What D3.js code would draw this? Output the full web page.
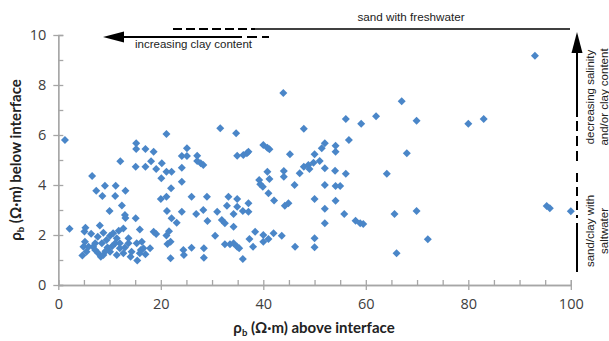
<!DOCTYPE html>
<html><head><meta charset="utf-8">
<script src="https://cdn.jsdelivr.net/npm/d3@7"></script>
<style>body{margin:0;background:#fff}svg{display:block}</style>
</head><body><svg id="c" width="609" height="341"></svg>
<script>
// resistivity above interface (x) and below interface (y), Ω·m
const xAbove = [
 1.3,12.1,15.2,15.2,15.1,17.0,17.0,18.1,18.6,20.2,19.1,21.1,20.1,21.1,22.1,24.1,25.1,25.1,24.1,27.1,
 27.1,27.8,28.3,24.1,31.6,34.7,34.9,36.1,36.8,37.1,40.0,40.8,41.2,43.9,45.2,47.9,40.8,44.0,44.0,47.9,
 48.8,47.1,49.8,49.0,39.2,39.4,39.9,41.2,46.1,41.0,42.1,44.2,44.9,56.1,59.1,62.0,67.0,69.9,80.0,83.0,
 93.0,56.7,68.0,52.0,51.4,54.1,54.1,50.0,51.0,52.0,54.0,56.1,64.1,52.0,54.1,55.0,50.0,54.1,52.0,55.8,
 58.0,58.9,59.5,65.6,69.9,52.0,50.0,50.0,66.0,72.1,95.3,95.9,100.0,26.0,29.0,33.2,34.9,37.1,32.9,34.9,
 28.3,24.1,26.9,31.0,36.0,37.1,34.2,29.1,31.9,32.5,34.2,30.6,38.4,40.0,42.0,41.0,40.0,43.6,37.3,32.5,
 33.5,34.2,34.9,35.3,38.0,46.2,26.0,28.4,24.4,24.5,28.4,36.0,22.0,20.0,21.1,21.2,22.1,23.1,18.6,19.1,
 15.9,21.1,21.6,21.3,21.9,21.9,2.2,6.6,7.4,9.1,11.2,8.6,11.1,13.1,10.0,12.4,13.0,13.1,15.1,
 4.7,4.9,5.2,5.1,5.3,5.5,5.9,6.4,6.8,7.2,7.2,7.7,7.8,8.1,8.3,8.5,8.8,8.8,9.4,10.1,10.1,10.7,11.1,11.4,
 11.4,11.8,12.0,12.0,12.7,12.7,13.7,13.7,14.1,14.3,15.4,15.3,15.9,16.1,16.3,16.6,17.0,17.9,9.6,10.5,13.0,9.2
];
const yBelow = [
 5.8,4.95,5.67,5.44,4.73,5.44,4.73,4.95,5.33,4.87,4.64,6.04,4.27,4.53,4.53,5.16,5.47,5.16,4.69,5.17,
 4.96,4.87,4.8,4.13,6.27,6.07,5.17,5.2,5.27,5.33,5.6,5.49,5.43,7.68,5.23,6.25,4.53,4.56,4.33,4.73,
 4.8,4.47,4.89,4.64,4.2,4.03,3.93,4.24,4.0,3.67,3.38,3.17,3.27,6.64,6.45,6.75,7.35,6.57,6.45,6.64,
 9.17,5.8,5.27,5.67,5.47,5.57,5.33,5.23,4.96,4.67,4.57,4.45,4.45,4.0,3.96,3.96,3.44,3.37,3.05,2.84,
 2.57,2.47,2.44,2.84,2.96,2.47,1.87,1.51,1.27,1.83,3.16,3.07,2.95,3.53,3.53,3.53,3.44,3.27,3.17,3.13,
 3.0,2.93,2.84,2.93,2.96,2.93,2.84,2.56,2.6,2.47,2.33,1.97,2.13,2.0,2.07,1.84,1.73,1.97,1.84,1.63,
 1.63,1.67,1.53,1.47,1.53,1.53,1.49,1.47,1.4,1.2,1.09,1.04,3.87,3.44,3.53,2.96,2.67,2.49,2.13,2.04,
 2.22,1.98,2.15,1.64,1.73,1.07,2.25,4.36,3.77,3.97,3.97,3.56,3.56,3.77,2.96,3.18,2.8,2.68,2.67,
 1.18,1.53,1.73,2.14,2.29,1.33,1.53,2.05,1.53,1.4,1.67,1.93,1.27,2.38,1.13,1.67,1.2,2.09,1.8,1.97,1.33,2.07,1.67,1.87,
 1.2,2.17,1.47,1.67,2.26,1.27,1.67,1.87,1.13,1.33,0.98,1.67,1.27,1.4,1.73,1.47,1.23,1.47,1.5,1.55,1.5,1.35
];
const xTickLabels = [0, 20, 40, 60, 80, 100];
const yTickLabels = [0, 2, 4, 6, 8, 10];
const xMinorTicks = d3.range(0, 101, 5);
const yMinorTicks = d3.range(0, 11, 1);
const topLabel = "sand with freshwater";
const leftArrowLabel = "increasing clay content";
const rightUpperLabel = ["decreasing salinity", "and/or clay content"];
const rightLowerLabel = ["sand/clay with", "saltwater"];

const svg = d3.select('#c');
const x = d3.scaleLinear().domain([0, 100]).range([58.3, 570.8]);
const y = d3.scaleLinear().domain([0, 10]).range([285, 35]);
const axisColor = '#a6a6a6';
const tickFont = '"Open Sans", sans-serif';

// minor (inside) ticks
const gxm = svg.append('g').attr('transform', `translate(0,${y(0)})`)
  .call(d3.axisBottom(x).tickValues(xMinorTicks).tickSize(-5).tickFormat(''));
const gym = svg.append('g').attr('transform', `translate(${x(0)},0)`)
  .call(d3.axisLeft(y).tickValues(yMinorTicks).tickSize(-5).tickFormat(''));
// major (outside) ticks + labels
const gx = svg.append('g').attr('transform', `translate(0,${y(0)})`)
  .call(d3.axisBottom(x).tickValues(xTickLabels).tickSizeInner(5).tickSizeOuter(0).tickPadding(9));
const gy = svg.append('g').attr('transform', `translate(${x(0)},0)`)
  .call(d3.axisLeft(y).tickValues(yTickLabels).tickSizeInner(5).tickSizeOuter(0).tickPadding(7));
[gxm, gym, gx, gy].forEach(g => {
  g.selectAll('path.domain').attr('stroke', axisColor).attr('stroke-width', 1.3);
  g.selectAll('line').attr('stroke', axisColor).attr('stroke-width', 1.3);
  g.selectAll('text').attr('fill', '#404040').attr('font-family', tickFont).attr('font-size', 14.5);
});

// points
const sym = d3.symbol().type(d3.symbolSquare).size(32);
svg.append('g').selectAll('path').data(xAbove.map((v, i) => [v, yBelow[i]])).join('path')
  .attr('d', sym)
  .attr('transform', d => `translate(${x(d[0])},${y(d[1])}) rotate(45)`)
  .attr('fill', '#4a86c8');

// axis titles
function title(g, tx, ty, rot, word) {
  const t = g.append('text').attr('transform', `translate(${tx},${ty}) rotate(${rot})`)
    .attr('text-anchor', 'middle').attr('font-family', 'Lato, sans-serif')
    .attr('font-weight', 'bold').attr('font-size', 15).attr('fill', '#222');
  t.append('tspan').text('ρ');
  t.append('tspan').attr('font-size', 9.5).attr('dy', 3).text('b');
  t.append('tspan').attr('dy', -3).text(' (Ω·m) ' + word);
}
title(svg, 314, 333, 0, 'above interface');
title(svg, 21, 160, -90, 'below interface');

// annotations
const ann = svg.append('g').attr('stroke', '#000').attr('fill', 'none');
const annFont = '"Liberation Sans", Arial, sans-serif';
// top freshwater line
ann.append('line').attr('x1', 173).attr('x2', 255).attr('y1', 29).attr('y2', 29)
  .attr('stroke-width', 2).attr('stroke-dasharray', '9,4');
ann.append('line').attr('x1', 255).attr('x2', 570).attr('y1', 29).attr('y2', 29).attr('stroke-width', 1.6);
svg.append('text').attr('x', 411).attr('y', 21).attr('text-anchor', 'middle')
  .attr('font-family', annFont).attr('font-size', 11.7).attr('fill', '#222').text(topLabel);
// left arrow (increasing clay content)
ann.append('line').attr('x1', 120).attr('x2', 232).attr('y1', 37).attr('y2', 37).attr('stroke-width', 1.8);
ann.append('line').attr('x1', 232).attr('x2', 269).attr('y1', 37).attr('y2', 37)
  .attr('stroke-width', 2).attr('stroke-dasharray', '10,5');
svg.append('path').attr('d', 'M103,37 L124,31.5 L124,42.5 Z').attr('fill', '#000');
svg.append('text').attr('x', 135).attr('y', 48)
  .attr('font-family', annFont).attr('font-size', 11.5).attr('fill', '#222').text(leftArrowLabel);
// right vertical arrow
const vx = 577;
svg.append('path').attr('d', `M${vx},32 L${vx - 5.5},53 L${vx + 5.5},53 Z`).attr('fill', '#000');
ann.append('line').attr('x1', vx).attr('x2', vx).attr('y1', 52).attr('y2', 117).attr('stroke-width', 2);
ann.append('line').attr('x1', vx).attr('x2', vx).attr('y1', 121).attr('y2', 163)
  .attr('stroke-width', 2).attr('stroke-dasharray', '10,5');
ann.append('line').attr('x1', vx).attr('x2', vx).attr('y1', 173).attr('y2', 218)
  .attr('stroke-width', 2).attr('stroke-dasharray', '9,5');
ann.append('line').attr('x1', vx).attr('x2', vx).attr('y1', 223).attr('y2', 272).attr('stroke-width', 2);
function vtext(lines, cy) {
  lines.forEach((s, i) => {
    svg.append('text').attr('transform', `translate(${594 + i * 13.5},${cy}) rotate(-90)`)
      .attr('text-anchor', 'middle').attr('font-family', annFont).attr('font-size', 11.5)
      .attr('fill', '#222').text(s);
  });
}
vtext(rightUpperLabel, 97);
vtext(rightLowerLabel, 231);
</script></body></html>
